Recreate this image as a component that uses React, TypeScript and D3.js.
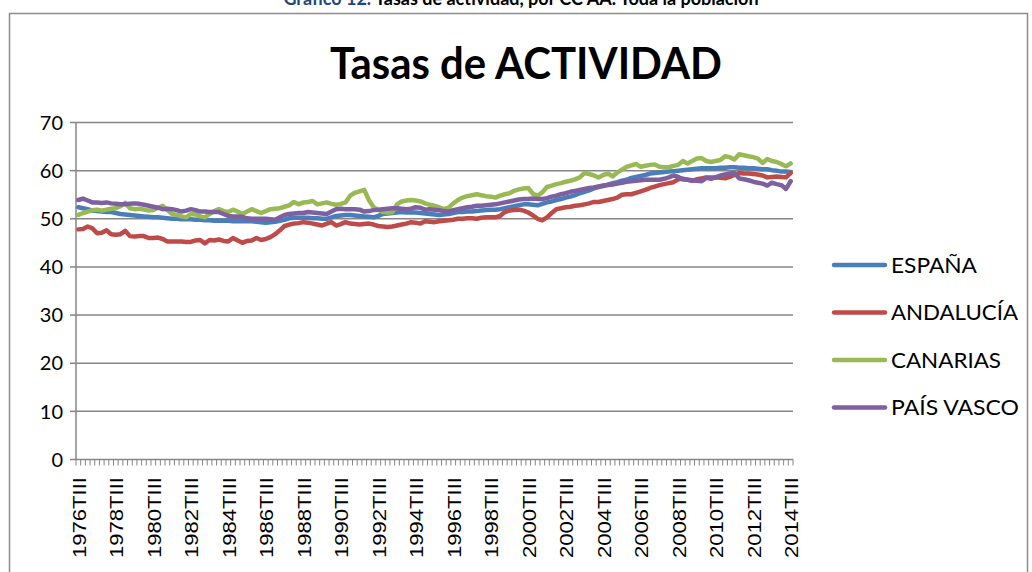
import React, { Component } from 'react'
import * as d3 from 'd3'

// quarterly categories 1976TIII .. 2014TIII
const quarterNames = ['TI', 'TII', 'TIII', 'TIV']
const categories: string[] = []
for (let y = 1976; y <= 2014; y++) {
  for (let q = 0; q < 4; q++) {
    if (y === 1976 && q < 2) continue
    if (y === 2014 && q > 2) continue
    categories.push(y + quarterNames[q])
  }
}

const yTicks = [0, 10, 20, 30, 40, 50, 60, 70]

const espana = [
  52.4, 52.2, 52.0, 51.7, 51.6, 51.5, 51.4, 51.4,
  51.2, 51.0, 50.9, 50.8, 50.7, 50.6, 50.5, 50.4,
  50.3, 50.3, 50.2, 50.1, 50.0, 50.0, 49.9, 49.9,
  49.9, 49.8, 49.8, 49.7, 49.7, 49.6, 49.6, 49.6,
  49.6, 49.5, 49.5, 49.5, 49.5, 49.5, 49.4, 49.3,
  49.2, 49.3, 49.4, 49.6, 49.8, 50.1, 50.2, 50.2,
  50.2, 50.2, 50.1, 50.1, 50.0, 50.0, 50.3, 50.6,
  50.7, 50.8, 50.8, 50.7, 50.6, 50.5, 50.4, 50.3,
  50.6, 51.0, 51.1, 51.2, 51.3, 51.4, 51.3, 51.3,
  51.3, 51.2, 51.1, 51.0, 50.9, 50.8, 50.9, 51.0,
  51.2, 51.4, 51.4, 51.5, 51.5, 51.6, 51.7, 51.8,
  51.9, 51.9, 52.0, 52.2, 52.4, 52.6, 52.8, 53.0,
  53.0, 52.9, 52.8, 53.1, 53.4, 53.6, 53.9, 54.1,
  54.4, 54.6, 54.9, 55.3, 55.6, 55.9, 56.3, 56.6,
  56.8, 57.1, 57.4, 57.6, 57.9, 58.1, 58.5, 58.7,
  58.9, 59.1, 59.4, 59.5, 59.6, 59.7, 59.8, 59.9,
  60.0, 60.1, 60.2, 60.3, 60.4, 60.5, 60.5, 60.5,
  60.5, 60.6, 60.6, 60.7, 60.7, 60.6, 60.6, 60.5,
  60.5, 60.4, 60.3, 60.3, 60.1, 60.0, 59.8, 59.8,
  59.7
]

const andalucia = [
  47.8, 47.9, 48.4, 48.0, 47.0, 47.1, 47.6, 46.8,
  46.7, 46.8, 47.5, 46.4, 46.3, 46.4, 46.4, 46.0,
  46.0, 46.1, 45.8, 45.3, 45.3, 45.3, 45.3, 45.2,
  45.2, 45.5, 45.6, 44.9, 45.6, 45.5, 45.7, 45.4,
  45.3, 46.0, 45.5, 45.0, 45.4, 45.5, 46.0, 45.6,
  45.8, 46.2, 46.8, 47.6, 48.5, 48.8, 49.0, 49.1,
  49.3, 49.2, 49.0, 48.8, 48.6, 49.0, 49.3, 48.6,
  48.9, 49.3, 49.0, 48.9, 48.8, 48.9, 49.0, 48.8,
  48.5, 48.4, 48.3, 48.4, 48.6, 48.8, 49.0, 49.3,
  49.2, 49.0, 49.5, 49.4, 49.3, 49.5, 49.6, 49.7,
  49.8, 50.0, 50.0, 50.1, 50.1, 50.0, 50.2, 50.3,
  50.3, 50.3, 50.6, 51.4, 51.7, 51.8, 51.9, 51.7,
  51.3, 50.7, 50.0, 49.7, 50.3, 51.2, 52.0, 52.2,
  52.4, 52.5, 52.7, 52.8, 53.0, 53.2, 53.5, 53.5,
  53.7, 53.9, 54.1, 54.4, 55.0, 55.1, 55.1, 55.4,
  55.7, 56.0, 56.4, 56.7, 57.0, 57.2, 57.4, 57.6,
  58.2, 58.3, 58.1, 57.9, 58.2, 58.4, 58.6, 58.6,
  58.6, 58.5, 58.4, 58.7, 59.1, 59.5, 59.4, 59.4,
  59.3, 59.2, 59.0, 58.6, 58.7, 58.8, 58.7, 58.6,
  59.5
]

const canarias = [
  50.8, 51.2, 51.5, 51.8, 51.9, 51.7, 51.9, 52.1,
  52.2, 52.6, 53.3, 52.2, 52.0, 52.1, 51.9, 51.7,
  51.8, 52.3, 52.7, 51.8, 51.0, 50.8, 50.5, 50.3,
  51.0, 50.9, 50.5, 50.3, 51.0, 51.6, 52.0, 51.6,
  51.4, 51.9, 51.5, 51.0, 51.5, 52.0, 51.6, 51.2,
  51.6, 52.0, 52.1, 52.2, 52.5, 52.8, 53.5, 53.0,
  53.4, 53.5, 53.7, 53.0, 53.2, 53.4, 53.1, 52.9,
  53.1, 53.4, 54.8, 55.4, 55.7, 56.0, 53.9, 52.4,
  51.9, 51.4, 51.3, 51.4, 53.0, 53.6, 53.8, 53.9,
  53.8, 53.6, 53.2, 52.9, 52.7, 52.4, 52.0, 52.3,
  53.2, 53.9, 54.4, 54.7, 54.9, 55.1, 54.9, 54.7,
  54.6, 54.4, 54.8, 55.1, 55.3, 55.8, 56.1, 56.3,
  56.4, 55.2, 54.8, 55.5, 56.6, 56.9, 57.2, 57.4,
  57.7, 57.9, 58.2, 58.6, 59.5, 59.3, 59.0, 58.6,
  59.1, 59.4, 58.8, 59.6, 60.2, 60.8, 61.1, 61.4,
  60.8, 61.0, 61.2, 61.3, 60.8, 60.7, 60.7, 61.0,
  61.2, 62.0, 61.5, 62.0, 62.5, 62.6, 62.0, 61.8,
  62.0, 62.2, 63.0, 62.8, 62.3, 63.4, 63.2, 63.0,
  62.8, 62.5, 61.6, 62.4, 62.0, 61.8, 61.4, 60.9,
  61.5
]

const paisVasco = [
  53.9, 54.2, 53.8, 53.4, 53.4, 53.3, 53.4, 53.2,
  53.1, 53.0, 53.0, 53.1, 53.2, 53.1, 52.9, 52.7,
  52.5, 52.3, 52.0, 52.1, 52.0, 51.8, 51.5, 51.7,
  52.0, 51.8, 51.5, 51.5, 51.4, 51.4, 51.4, 51.0,
  50.6, 50.5, 50.5, 50.4, 50.1, 50.0, 50.0, 50.0,
  50.0, 49.9, 49.8, 50.3, 50.8, 51.0, 51.1, 51.2,
  51.2, 51.4, 51.3, 51.2, 51.1, 51.0, 51.5, 52.0,
  52.1, 52.0, 52.0, 52.0, 51.9, 51.5, 51.6, 51.8,
  51.9, 52.0, 52.1, 52.2, 52.2, 52.1, 52.0, 52.1,
  52.4, 52.3, 51.9, 52.0, 51.9, 51.8, 51.6, 51.5,
  51.8, 52.0, 52.2, 52.4, 52.5, 52.7, 52.7, 52.8,
  52.9, 53.0, 53.2, 53.4, 53.6, 53.8, 54.0, 54.1,
  54.1, 54.2, 54.1, 54.1, 54.3, 54.6, 54.8, 55.1,
  55.3, 55.6, 55.8, 56.0, 56.2, 56.4, 56.5, 56.7,
  56.9, 57.0, 57.1, 57.3, 57.5, 57.7, 57.8, 57.9,
  58.0, 58.1, 58.1, 58.1, 58.1, 58.3, 58.6, 59.0,
  58.7, 58.2, 58.1, 58.0, 57.9, 57.8, 58.5, 58.3,
  58.6, 59.0, 59.2, 59.4, 59.5, 58.4, 58.2, 58.0,
  57.7, 57.5, 57.3, 56.9, 57.5, 57.2, 57.0, 56.2,
  57.8
]

const seriesNames = ['ESPAÑA', 'ANDALUCÍA', 'CANARIAS', 'PAÍS VASCO']
const seriesColors = ['#4a7ebb', '#be4b48', '#98b954', '#7d60a0']
const legendWidths = [86, 127, 110, 128]

class App extends Component {
  myRef = React.createRef<HTMLDivElement>()

  componentDidMount() {
    const node = this.myRef.current
    if (!node) return
    d3.select(node).selectAll('*').remove()

    const width = 1032, height = 572
    const plot = { left: 76, right: 793, top: 122.5, bottom: 459.5 }
    const allSeries = [espana, andalucia, canarias, paisVasco]

    const svg = d3.select(node).append('svg')
      .attr('width', width)
      .attr('height', height)
      .style('display', 'block')
      .style('background', '#fff')

    // caption, cut at the top of the page like in the scan
    const cap = svg.append('text')
      .attr('x', 521).attr('y', 5)
      .attr('text-anchor', 'middle')
      .style('font-family', 'Lato, sans-serif')
      .style('font-weight', 'bold')
      .style('font-size', '18px')
    cap.append('tspan').attr('fill', '#1f497d').text('Gráfico 12.')
    cap.append('tspan').attr('fill', '#000').text(' Tasas de actividad, por CC AA. Toda la población')

    // outer frame
    svg.append('rect')
      .attr('x', 9.5).attr('y', 13.5)
      .attr('width', 1018).attr('height', 600)
      .attr('fill', 'none')
      .attr('stroke', '#8c8c8c')
      .attr('stroke-width', 1.5)

    svg.append('text')
      .attr('x', 526).attr('y', 79)
      .attr('text-anchor', 'middle')
      .attr('textLength', 392)
      .attr('lengthAdjust', 'spacingAndGlyphs')
      .style('font-family', 'Lato, sans-serif')
      .style('font-weight', 'bold')
      .style('font-size', '44px')
      .text('Tasas de ACTIVIDAD')

    const x = d3.scaleBand<string>()
      .domain(categories)
      .range([plot.left, plot.right])
      .padding(0)
    const y = d3.scaleLinear().domain([0, 70]).range([plot.bottom, plot.top])

    // gridlines
    svg.append('g').selectAll('line')
      .data(yTicks.filter(d => d > 0))
      .enter().append('line')
      .attr('x1', plot.left).attr('x2', plot.right)
      .attr('y1', d => y(d)).attr('y2', d => y(d))
      .attr('stroke', '#868686')
      .attr('stroke-width', 1.5)

    // y axis
    const yAxis = svg.append('g')
    yAxis.append('line')
      .attr('x1', plot.left).attr('x2', plot.left)
      .attr('y1', plot.top).attr('y2', plot.bottom)
      .attr('stroke', '#868686').attr('stroke-width', 1.5)
    yAxis.selectAll('.tick')
      .data(yTicks)
      .enter().append('line')
      .attr('x1', plot.left - 6).attr('x2', plot.left)
      .attr('y1', d => y(d)).attr('y2', d => y(d))
      .attr('stroke', '#868686').attr('stroke-width', 1.5)
    yAxis.selectAll('text')
      .data(yTicks)
      .enter().append('text')
      .attr('x', 63)
      .attr('y', d => y(d))
      .attr('dy', '0.36em')
      .attr('text-anchor', 'end')
      .style('font-family', 'Lato, sans-serif')
      .style('font-size', '20px')
      .attr('fill', '#000')
      .text(d => d)

    // x axis
    const xAxis = svg.append('g')
    xAxis.append('line')
      .attr('x1', plot.left).attr('x2', plot.right)
      .attr('y1', plot.bottom).attr('y2', plot.bottom)
      .attr('stroke', '#868686').attr('stroke-width', 1.5)
    const bounds = categories.map(c => x(c) as number).concat([plot.right])
    xAxis.selectAll('.tick')
      .data(bounds)
      .enter().append('line')
      .attr('x1', d => d).attr('x2', d => d)
      .attr('y1', plot.bottom).attr('y2', plot.bottom + 6)
      .attr('stroke', '#868686').attr('stroke-width', 1)
    xAxis.selectAll('text')
      .data(categories.filter((c, i) => i % 8 === 0))
      .enter().append('text')
      .attr('transform', d => 'translate(' + ((x(d) as number) + x.bandwidth() / 2 + 1) + ',477) rotate(-90)')
      .attr('dy', '0.36em')
      .attr('text-anchor', 'end')
      .attr('textLength', 81)
      .attr('lengthAdjust', 'spacingAndGlyphs')
      .style('font-family', '"Liberation Sans", Arial, sans-serif')
      .style('font-size', '18px')
      .attr('fill', '#000')
      .text(d => d)

    // series
    const line = d3.line<number>()
      .x((d, i) => (x(categories[i]) as number) + x.bandwidth() / 2)
      .y(d => y(d))

    svg.append('g').selectAll('path')
      .data(allSeries)
      .enter().append('path')
      .attr('d', d => line(d))
      .attr('fill', 'none')
      .attr('stroke', (d, i) => seriesColors[i])
      .attr('stroke-width', 4.5)
      .attr('stroke-linejoin', 'round')
      .attr('stroke-linecap', 'round')

    // legend
    const legend = svg.append('g')
    seriesNames.forEach((name, i) => {
      const ly = 265 + i * 47.5
      legend.append('line')
        .attr('x1', 834).attr('x2', 885)
        .attr('y1', ly).attr('y2', ly)
        .attr('stroke', seriesColors[i])
        .attr('stroke-width', 4.5)
        .attr('stroke-linecap', 'round')
      legend.append('text')
        .attr('x', 891).attr('y', ly)
        .attr('dy', '0.36em')
        .attr('textLength', legendWidths[i])
        .attr('lengthAdjust', 'spacingAndGlyphs')
        .style('font-family', 'Lato, sans-serif')
        .style('font-size', '21px')
        .attr('fill', '#000')
        .text(name)
    })
  }

  render() {
    return (
      <div
        ref={this.myRef}
        style={{ position: 'absolute', left: 0, top: 0, width: 1032, height: 572 }}
      ></div>
    )
  }
}

export default App
